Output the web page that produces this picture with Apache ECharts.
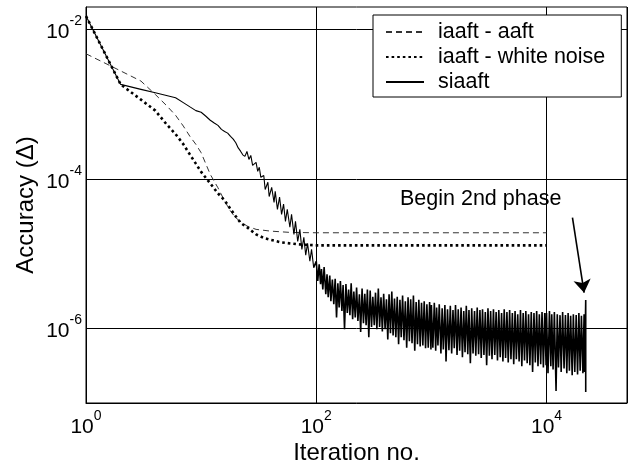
<!DOCTYPE html>
<html><head><meta charset="utf-8">
<script src="https://cdn.jsdelivr.net/npm/echarts@6/dist/echarts.min.js"></script>
<style>html,body{margin:0;padding:0;background:#fff}#c{width:630px;height:463px}</style>
</head><body><div id="c"></div>
<script>
// ---- data (log-log) ----
const aaftIter = [1,2,3,4,5,6,7,8,9,10,12,14,16,18,20,25,30,40,60,100,1000,10000];
const aaftVal  = [4.73e-3,2.79e-3,2.04e-3,1.35e-3,9.6e-4,7.1e-4,5.1e-4,3.7e-4,2.9e-4,2.24e-4,1.15e-4,7.6e-5,5.05e-5,3.7e-5,3.0e-5,2.34e-5,2.11e-5,2.0e-5,1.92e-5,1.9e-5,1.9e-5,1.9e-5];

const wnIter = [1,2,3,4,5,6,7,8,9,10,12,14,16,18,20,22,25,30,35,40,50,70,100,1000,10000];
const wnVal  = [1.51e-2,1.84e-3,1.15e-3,8.2e-4,5.4e-4,3.97e-4,2.92e-4,2.11e-4,1.6e-4,1.24e-4,8.7e-5,6.4e-5,5.15e-5,3.95e-5,3.15e-5,2.59e-5,2.25e-5,1.81e-5,1.62e-5,1.53e-5,1.41e-5,1.33e-5,1.29e-5,1.29e-5,1.29e-5];

const siEarlyIter = [1,2,3,4,5,6,7,8,9,10,11,12,13,14,15,16,17,18,19,20,21,22,23,24];
const siEarlyVal  = [1.51e-2,1.84e-3,1.58e-3,1.42e-3,1.31e-3,1.22e-3,1.05e-3,9.2e-4,8.2e-4,7.8e-4,6.9e-4,6.1e-4,5.6e-4,5.2e-4,4.6e-4,4.3e-4,4.1e-4,3.7e-4,3.4e-4,3.05e-4,2.6e-4,2.35e-4,2.1e-4,2.0e-4];

const siMidIter = [25,26,27,28,30,31,32,33,35,36,38,39,41,43,44,46,48,50,52,54,56,59,61,64,66,69,72,75,78,81,84,88,91,95];
const siMidVal  = [2.33e-4,1.82e-4,2.06e-4,1.52e-4,1.66e-4,1.26e-4,1.43e-4,1.05e-4,1.11e-4,7.2e-5,9.0e-5,5.8e-5,7.7e-5,4.85e-5,6.8e-5,3.9e-5,5.7e-5,3.35e-5,4.6e-5,2.7e-5,3.9e-5,2.25e-5,3.35e-5,1.81e-5,2.7e-5,1.46e-5,2.11e-5,1.14e-5,1.65e-5,9.5e-6,1.37e-5,7.9e-6,1.14e-5,6.5e-6];

const siNoiseIter = [
95,100,103,106,109,111,114,117,121,124,127,131,134,138,142,146,150,154,158,162,167,
171,176,181,186,191,196,201,207,212,218,224,230,237,243,250,257,264,271,278,286,
294,302,310,319,327,336,346,355,365,375,385,396,407,418,429,441,453,465,478,491,
505,519,533,547,562,578,594,610,627,644,661,679,698,717,737,757,778,799,821,843,
866,890,914,939,965,991,
1000,1030,1060,1090,1110,1140,1170,1210,1240,1270,1310,1340,1380,1420,1460,1500,1540,1580,1620,1670,
1710,1760,1810,1860,1910,1960,2010,2070,2120,2180,2240,2300,2370,2430,2500,2570,2640,2710,2780,2860,
2940,3020,3100,3190,3270,3360,3460,3550,3650,3750,3850,3960,4070,4180,4290,4410,4530,4650,4780,4910,
5050,5190,5330,5470,5620,5780,5940,6100,6270,6440,6610,6790,6980,7170,7370,7570,7780,7990,8210,8430,
8660,8900,9140,9390,9650,9910,
10000,10300,10600,10900,11100,11400,11700,12100,12400,12700,13100,13400,13800,14200,14600,15000,15400,15800,16200,16700,
17100,17600,18100,18600,19100,19600,20100,20700,21200,21400,21900,21900];
const siNoiseVal = [
6.5e-6,
7.9e-6,4.3e-6,7.2e-6,3.9e-6,6.2e-6,3.3e-6,6.6e-6,2.85e-6,5.3e-6,2.6e-6,
5.1e-6,2.3e-6,4.5e-6,2.1e-6,4.6e-6,1.4e-6,4.0e-6,1.9e-6,4.3e-6,1.7e-6,
3.8e-6,9.7e-7,3.9e-6,1.6e-6,3.3e-6,1.5e-6,4.0e-6,1.32e-6,3.1e-6,1.4e-6,
3.5e-6,1.25e-6,2.85e-6,8.9e-7,3.4e-6,1.17e-6,2.9e-6,1.1e-6,3.3e-6,7.6e-7,
3.2e-6,1.04e-6,2.65e-6,1.1e-6,3.0e-6,9.7e-7,3.4e-6,1.04e-6,2.6e-6,9.1e-7,
2.9e-6,9.7e-7,2.45e-6,7.1e-7,2.85e-6,8.6e-7,3.1e-6,8.0e-7,2.5e-6,7.6e-7,
2.65e-6,6.1e-7,2.4e-6,7.6e-7,2.75e-6,6.9e-7,2.3e-6,5.5e-7,2.6e-6,6.7e-7,
2.45e-6,6.3e-7,2.75e-6,5.0e-7,2.25e-6,6.1e-7,2.4e-6,5.7e-7,2.2e-6,5.9e-7,
2.3e-6,5.4e-7,2.1e-6,5.5e-7,2.25e-6,5.2e-7,
2.05e-6,5.5e-7,2.2e-6,5.0e-7,1.9e-6,5.9e-7,2.1e-6,4.6e-7,1.85e-6,5.2e-7,
2.05e-6,3.6e-7,1.8e-6,5.1e-7,2.0e-6,4.6e-7,1.75e-6,5.4e-7,2.05e-6,4.4e-7,
1.8e-6,5.0e-7,1.9e-6,4.1e-7,1.7e-6,4.8e-7,2.0e-6,4.5e-7,1.75e-6,3.4e-7,
1.85e-6,4.6e-7,1.7e-6,4.3e-7,1.9e-6,4.5e-7,1.75e-6,4.0e-7,1.8e-6,4.4e-7,
1.65e-6,3.2e-7,1.85e-6,4.3e-7,1.7e-6,3.85e-7,1.8e-6,4.4e-7,1.65e-6,3.7e-7,
1.75e-6,4.1e-7,1.6e-6,3.6e-7,1.8e-6,4.0e-7,1.65e-6,3.5e-7,1.75e-6,3.85e-7,
1.6e-6,3.3e-7,1.7e-6,3.85e-7,1.54e-6,3.6e-7,1.75e-6,3.1e-7,1.6e-6,3.7e-7,
1.7e-6,3.4e-7,1.54e-6,3.2e-7,1.65e-6,2.6e-7,1.6e-6,3.5e-7,1.7e-6,3.1e-7,
1.54e-6,3.3e-7,1.65e-6,3.0e-7,1.6e-6,3.2e-7,
1.6e-6,2.5e-7,1.7e-6,3.1e-7,1.54e-6,2.8e-7,1.65e-6,1.45e-7,1.54e-6,3.0e-7,
1.5e-6,2.6e-7,1.65e-6,2.9e-7,1.5e-6,2.5e-7,1.6e-6,2.7e-7,1.47e-6,2.35e-7,
1.54e-6,2.6e-7,1.5e-6,2.4e-7,1.6e-6,2.7e-7,1.47e-6,2.5e-7,1.54e-6,2.6e-7,2.4e-6,1.4e-7];

const seriesNames = ['iaaft - aaft', 'iaaft - white noise', 'siaaft'];
const annotText = 'Begin 2nd phase';
const annotAt = [2680, 5.4e-5];
const arrowFrom = [16800, 3.03e-5];
const arrowTo = [21200, 3.0e-6];

// ---- build ----
function zip(xs, ys) { const n = Math.min(xs.length, ys.length); const out = []; for (let i = 0; i < n; i++) out.push([xs[i], ys[i]]); return out; }
const FONT = 'Liberation Sans, Arial, Helvetica, sans-serif';
function powLabel(v) {
  const e = Math.log10(v); const r = Math.round(e);
  if (Math.abs(e - r) > 1e-6 || r % 2 !== 0) return '';
  return '{b|10}{s|' + r + '}';
}
const rich = {
  b: { fontSize: 21, lineHeight: 21, fontFamily: FONT, color: '#000', padding: [10.5, 0, 4.5, 0] },
  s: { fontSize: 14, lineHeight: 14, fontFamily: FONT, color: '#000', padding: [3, 0, 19, 0] }
};
const noLegendSymbol = { color: 'rgba(0,0,0,0)', borderWidth: 0, opacity: 0 };

const chart = echarts.init(document.getElementById('c'), null, { renderer: 'canvas' });
chart.setOption({
  animation: false,
  backgroundColor: '#fff',
  textStyle: { fontFamily: FONT },
  grid: { left: 86, right: 3, top: 7, bottom: 60, show: true, borderColor: '#000', borderWidth: 1,
    containLabel: false, outerBoundsMode: 'none' },
  legend: {
    orient: 'vertical', left: 373, top: 15, padding: [6, 16, 4, 12], itemGap: 3, itemWidth: 38, itemHeight: 14,
    backgroundColor: '#fff', borderColor: '#000', borderWidth: 1, borderRadius: 0,
    itemStyle: noLegendSymbol,
    textStyle: { fontSize: 21.5, fontFamily: FONT, color: '#000', padding: [0, 0, 0, 9] },
    data: seriesNames, selectedMode: false
  },
  xAxis: {
    type: 'log', logBase: 10, min: 1, max: 5e4, interval: 2,
    name: 'Iteration no.', nameLocation: 'middle', nameGap: 38, nameMoveOverlap: false,
    nameTextStyle: { fontSize: 24, fontFamily: FONT, color: '#000' },
    axisLine: { show: true, lineStyle: { color: '#000', width: 1 } },
    axisTick: { show: false },
    axisLabel: { margin: 11, formatter: powLabel, rich: rich, color: '#000' },
    splitLine: { show: true, lineStyle: { color: '#000', width: 1 } }
  },
  yAxis: {
    type: 'log', logBase: 10, min: 1e-7, max: 0.02, interval: 1,
    name: 'Accuracy (Δ)', nameLocation: 'middle', nameGap: 48, nameMoveOverlap: false,
    nameTextStyle: { fontSize: 24, fontFamily: FONT, color: '#000' },
    axisLine: { show: true, lineStyle: { color: '#000', width: 1 } },
    axisTick: { show: false },
    axisLabel: { margin: 4, formatter: powLabel, rich: rich, color: '#000' },
    splitLine: { show: true, lineStyle: { color: ['rgba(0,0,0,0)', '#000'], width: 1 } }
  },
  series: [
    { name: seriesNames[0], type: 'line', data: zip(aaftIter, aaftVal), symbol: 'none', showSymbol: false,
      lineStyle: { color: '#333', width: 1, type: [6, 4] }, itemStyle: { color: '#333' }, z: 3 },
    { name: seriesNames[1], type: 'line', data: zip(wnIter, wnVal), symbol: 'none', showSymbol: false,
      lineStyle: { color: '#000', width: 2.6, type: [2.6, 3] }, itemStyle: { color: '#000' }, z: 3 },
    { name: seriesNames[2], type: 'line', data: zip(siEarlyIter.concat(siMidIter), siEarlyVal.concat(siMidVal)),
      symbol: 'none', showSymbol: false,
      lineStyle: { color: '#000', width: 1.1 }, itemStyle: { color: '#000' }, z: 4 },
    { name: seriesNames[2], type: 'line', data: zip(siNoiseIter, siNoiseVal),
      symbol: 'none', showSymbol: false, sampling: null,
      lineStyle: { color: '#000', width: 1.6 }, itemStyle: { color: '#000' }, z: 4 },
    { name: 'annotation', type: 'scatter', data: [annotAt], symbolSize: 1,
      itemStyle: { color: 'rgba(0,0,0,0)', opacity: 1 }, silent: true,
      label: { show: true, position: 'inside', formatter: annotText, fontSize: 21.5, fontFamily: FONT,
        color: '#000', opacity: 1, textBorderWidth: 0 },
      markLine: { silent: true, symbol: ['none', 'arrow'], symbolSize: 13, label: { show: false },
        lineStyle: { color: '#000', width: 1.6, type: 'solid', opacity: 1 },
        data: [[{ coord: arrowFrom }, { coord: arrowTo }]] }, z: 5 }
  ]
});
</script>
</body></html>
